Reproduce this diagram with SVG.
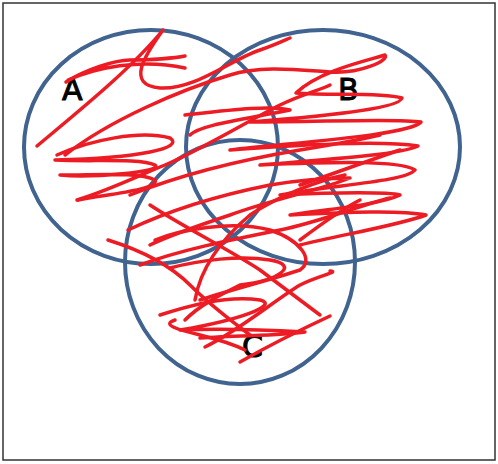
<svg xmlns="http://www.w3.org/2000/svg" width="498" height="464" viewBox="0 0 498 464">
<style>
.c{fill:none;stroke:#41638F;stroke-width:4}
.s{fill:none;stroke:#ED1C24;stroke-width:3.5;stroke-linecap:round;stroke-linejoin:round}
.t{font-family:"DejaVu Sans",sans-serif;font-size:30px;fill:#000;stroke:#000;stroke-width:1}
</style>
<rect x="3" y="3" width="492" height="457" fill="#fff" stroke="#333" stroke-width="1.5"/>
<g id="nodeA"><ellipse class="c" cx="151" cy="147" rx="127" ry="117"/><text class="t" x="62" y="100">A</text></g>
<g id="nodeB"><ellipse class="c" cx="323" cy="147" rx="137" ry="117"/><text class="t" x="338" y="100">B</text></g>
<g id="nodeC"><ellipse class="c" cx="240" cy="262" rx="115" ry="122"/><text class="t" x="242" y="357">C</text></g>
<g id="scribbles">
<path class="s" d="M37,146 C80,110 130,70 163,30 C145,55 125,85 160,88 C195,90 230,60 260,50 C275,45 285,40 290,38"/>
<path class="s" d="M66,82 C85,70 115,60 130,60 C150,60 175,58 185,56 M68,80 C95,68 140,58 185,68"/>
<path class="s" d="M57,155 C90,140 140,130 170,138 C185,148 140,158 55,160 C90,162 140,158 155,165 C165,172 90,178 60,175 C100,175 140,172 155,180 C160,190 100,195 78,200"/>
<path class="s" d="M77,200 C110,190 140,175 165,165 C200,150 250,120 280,105 C300,95 320,90 330,85"/>
<path class="s" d="M65,155 C110,120 180,90 230,75 C260,65 300,70 330,72 C360,74 390,60 385,55 C370,60 320,70 296,93 C330,96 380,92 402,98 C400,110 300,118 250,122 C320,122 400,118 421,122 C410,135 300,142 230,150 C300,145 380,140 418,146 C400,155 320,160 260,165 C330,162 400,160 415,170 C405,182 330,185 280,195 C340,192 390,192 400,195 C380,205 320,210 290,215 C350,212 400,210 426,215 C400,225 340,235 300,245"/>
<path class="s" d="M185,115 C230,110 270,105 290,110 C240,120 200,125 190,135"/>
<path class="s" d="M130,195 C180,175 240,160 300,150 C330,145 360,140 380,135"/>
<path class="s" d="M128,230 C170,210 220,195 270,185 C300,180 330,178 350,178 C320,190 270,200 230,215 C200,225 170,235 150,245"/>
<path class="s" d="M140,265 C180,250 230,240 280,230 C320,222 360,205 390,198"/>
<path class="s" d="M108,240 C140,250 170,265 190,285 C210,305 230,320 250,335"/>
<path class="s" d="M150,205 C180,225 230,250 260,270 C280,285 300,300 320,315"/>
<path class="s" d="M160,315 C190,305 230,295 260,300 C280,305 240,320 180,330 C220,328 270,330 305,332 C280,336 240,335 200,338"/>
<path class="s" d="M170,268 C200,260 240,255 270,260 C300,265 280,280 240,285 C220,295 200,305 185,320"/>
<path class="s" d="M240,362 C270,345 300,330 330,316"/>
<path class="s" d="M205,347 C240,330 275,300 300,285 C320,275 340,272 330,271"/>
<path class="s" d="M155,240 C180,230 230,220 270,230 C300,240 315,260 300,270 C270,280 230,290 200,300"/>
<path class="s" d="M195,300 C200,270 220,240 250,215 C280,195 320,180 345,175"/>
<path class="s" d="M245,350 C235,345 220,340 200,335 C180,330 160,325 175,320"/>
<path class="s" d="M300,185 C330,175 370,160 400,150 M300,240 C320,225 340,210 360,200"/>
</g>
</svg>
